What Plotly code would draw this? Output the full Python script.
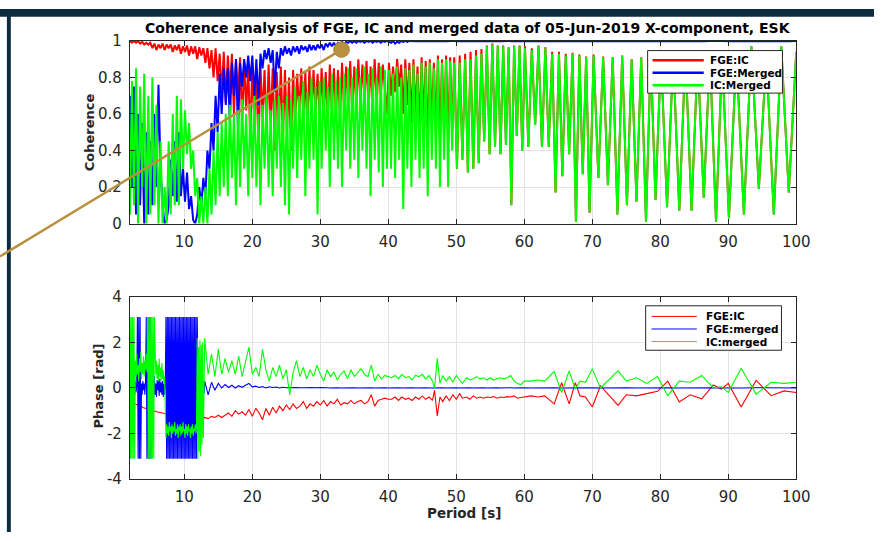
import plotly.graph_objects as go

W, H = 888, 541

# ---------------- data: coherence panel ----------------
period_coh = [
    2.0, 2.3, 2.6, 2.9, 3.2, 3.5, 3.8, 4.1, 4.4, 4.7,
    5.0, 5.3, 5.6, 5.9, 6.2, 6.5, 6.8, 7.1, 7.4, 7.7,
    8.0, 8.3, 8.6, 8.9, 9.2, 9.5, 9.8, 10.1, 10.4, 10.7,
    11.0, 11.3, 11.6, 11.9, 12.2, 12.5, 12.8, 13.1, 13.4, 13.7,
    14.0, 14.3, 14.6, 14.9, 15.2, 15.5, 15.8, 16.1, 16.4, 16.7,
    17.0, 17.3, 17.6, 17.9, 18.2, 18.5, 18.8, 19.1, 19.4, 19.7,
    20.0, 20.3, 20.6, 20.9, 21.2, 21.5, 21.8, 22.1, 22.4, 22.7,
    23.0, 23.3, 23.6, 23.9, 24.2, 24.5, 24.8, 25.1, 25.4, 25.7,
    26.0, 26.3, 26.6, 26.9, 27.2, 27.5, 27.8, 28.1, 28.4, 28.7,
    29.0, 29.3, 29.6, 29.9, 30.2, 30.5, 30.8, 31.1, 31.4, 31.7,
    32.0, 32.3, 32.6, 32.9, 33.2, 33.5, 33.8, 34.1, 34.4, 34.7,
    35.0, 35.3, 35.6, 35.9, 36.2, 36.5, 36.8, 37.1, 37.4, 37.7,
    38.0, 38.3, 38.6, 38.9, 39.2, 39.5, 39.8,
    40.1, 40.4, 40.7, 41.0, 41.3, 41.6, 41.9, 42.2, 42.5, 42.8,
    43.1, 43.4, 43.7, 44.0, 44.3, 44.6, 44.9, 45.2, 45.5, 45.8,
    46.1, 46.4, 46.7, 47.0, 47.3, 47.6, 47.9, 48.2, 48.5, 48.8,
    49.1, 49.4, 49.7,
    50.1, 50.5, 50.9, 51.3, 51.7, 52.1, 52.5, 52.9, 53.3, 53.7,
    54.1, 54.5, 54.9, 55.3, 55.7, 56.1, 56.5, 56.9, 57.3, 57.7,
    58.1, 58.5, 58.9, 59.3, 59.7,
    60.1, 60.6, 61.1, 61.6, 62.1, 62.6, 63.1, 63.6, 64.1, 64.6,
    65.1, 65.6, 66.1, 66.6, 67.1, 67.6, 68.1, 68.6, 69.1, 69.6,
    70.2, 70.9, 71.6, 72.3, 73.0, 73.7, 74.4, 75.1, 75.8, 76.5, 77.2, 77.9, 78.6, 79.3,
    80.1, 81.0, 81.9, 82.8, 83.7, 84.6, 85.5, 86.4, 87.3, 88.2, 89.1,
    90.1, 91.2, 92.3, 93.4, 94.5, 95.6, 96.7, 97.8, 98.9, 100.0,
]

coh_fge_ic = [
    1.0, 0.99, 1.0, 0.99, 1.0, 0.985, 0.995, 0.98, 0.99, 0.98,
    0.99, 0.96, 0.985, 0.95, 0.98, 0.96, 0.985, 0.95, 0.98, 0.96,
    0.98, 0.94, 0.975, 0.95, 0.98, 0.93, 0.97, 0.94, 0.975, 0.92,
    0.97, 0.93, 0.97, 0.9, 0.965, 0.92, 0.96, 0.88, 0.96, 0.85,
    0.95, 0.8, 0.96, 0.78, 0.93, 0.7, 0.94, 0.66, 0.92, 0.72,
    0.93, 0.6, 0.9, 0.7, 0.91, 0.55, 0.88, 0.62, 0.87, 0.45,
    0.88, 0.55, 0.85, 0.4, 0.86, 0.58, 0.84, 0.5, 0.87, 0.55,
    0.85, 0.4, 0.83, 0.52, 0.86, 0.45, 0.84, 0.5, 0.8, 0.4,
    0.84, 0.55, 0.82, 0.6, 0.85, 0.58, 0.83, 0.5, 0.86, 0.6,
    0.84, 0.62, 0.82, 0.58, 0.85, 0.6, 0.83, 0.55, 0.87, 0.62,
    0.85, 0.6, 0.84, 0.58, 0.88, 0.62, 0.86, 0.65, 0.89, 0.6,
    0.86, 0.66, 0.9, 0.65, 0.87, 0.7, 0.89, 0.62, 0.86, 0.68,
    0.9, 0.65, 0.88, 0.7, 0.87, 0.72, 0.6,
    0.88, 0.7, 0.86, 0.72, 0.9, 0.75, 0.87, 0.6, 0.9, 0.65,
    0.88, 0.55, 0.9, 0.6, 0.86, 0.5, 0.91, 0.55, 0.89, 0.45,
    0.9, 0.55, 0.88, 0.5, 0.92, 0.45, 0.9, 0.5, 0.92, 0.45,
    0.91, 0.5, 0.91,
    0.3, 0.92, 0.35, 0.93, 0.28, 0.94, 0.3, 0.95, 0.33, 0.955,
    0.45, 0.975, 0.38, 0.985, 0.42, 0.975, 0.38, 0.975, 0.43, 0.965,
    0.1, 0.975, 0.48, 0.975, 0.4,
    0.97, 0.42, 0.96, 0.54, 0.975, 0.42, 0.965, 0.42, 0.94, 0.17,
    0.94, 0.26, 0.93, 0.38, 0.935, 0.01, 0.925, 0.27, 0.915, 0.06,
    0.925, 0.25, 0.915, 0.21, 0.91, 0.05, 0.92, 0.1, 0.9, 0.12, 0.91, 0.01, 0.92, 0.13,
    0.93, 0.09, 0.92, 0.07, 0.93, 0.07, 0.92, 0.14, 0.93, 0.01, 0.92,
    0.03, 0.93, 0.05, 0.97, 0.19, 0.92, 0.05, 0.97, 0.17, 0.94,
]

coh_fge_merged = [
    0.7, 0.2, 0.75, 0.05, 0.6, 0.1, 0.55, 0.0, 0.5, 0.05,
    0.45, 0.1, 0.6, 0.2, 0.76, 0.3, 0.1, 0.0, 0.02, 0.1,
    0.35, 0.15, 0.45, 0.12, 0.5, 0.15, 0.3, 0.12, 0.28, 0.08,
    0.15, 0.02, 0.0, 0.05, 0.2, 0.1, 0.25, 0.15, 0.4, 0.3,
    0.55, 0.4, 0.7, 0.5, 0.82, 0.6, 0.85, 0.65, 0.85, 0.55,
    0.88, 0.7, 0.9, 0.5, 0.88, 0.75, 0.9, 0.8, 0.92, 0.78,
    0.92, 0.7, 0.9, 0.65, 0.93, 0.85, 0.95, 0.9, 0.96, 0.88,
    0.95, 0.72, 0.94, 0.85, 0.96, 0.92, 0.97, 0.93, 0.96, 0.92,
    0.97, 0.94, 0.97, 0.93, 0.975, 0.95, 0.97, 0.94, 0.98, 0.95,
    0.975, 0.95, 0.98, 0.96, 0.98, 0.95, 0.985, 0.97, 0.99, 0.97,
    0.99, 0.97, 0.99, 0.98, 0.995, 0.98, 0.995, 0.99, 1.0, 0.99,
    1.0, 0.99, 1.0, 0.995, 1.0, 0.99, 1.0, 0.995, 1.0, 0.99,
    1.0, 0.995, 1.0, 0.99, 1.0, 0.995, 1.0,
    0.995, 0.99, 1.0, 0.985, 0.995, 0.99, 1.0, 0.995, 1.0, 0.995,
    1.0, 0.998, 1.0, 0.998, 1.0, 0.998, 1.0, 0.998, 1.0, 0.998,
    1.0, 0.998, 1.0, 0.998, 1.0, 0.998, 1.0, 0.998, 1.0, 0.998,
    1.0, 0.998, 1.0,
    0.998, 1.0, 0.998, 1.0, 0.998, 1.0, 0.998, 1.0, 0.998, 1.0,
    0.998, 1.0, 0.998, 1.0, 0.998, 1.0, 0.998, 1.0, 0.998, 1.0,
    0.998, 1.0, 0.998, 1.0, 0.998,
    1.0, 0.998, 1.0, 0.998, 1.0, 0.998, 1.0, 0.998, 1.0, 0.998,
    1.0, 0.998, 1.0, 0.998, 1.0, 0.998, 1.0, 0.998, 1.0, 0.998,
    1.0, 0.998, 1.0, 0.998, 1.0, 0.998, 1.0, 0.998, 1.0, 0.998, 1.0, 0.998, 1.0, 0.998,
    1.0, 0.998, 1.0, 0.998, 1.0, 0.998, 1.0, 0.998, 1.0, 0.998, 1.0,
    0.998, 1.0, 0.998, 1.0, 0.998, 1.0, 0.998, 1.0, 0.998, 1.0,
]

coh_ic_merged = [
    0.05, 0.78, 0.1, 0.85, 0.0, 0.75, 0.2, 0.82, 0.0, 0.7,
    0.05, 0.8, 0.1, 0.65, 0.0, 0.45, 0.0, 0.2, 0.0, 0.45,
    0.05, 0.6, 0.1, 0.7, 0.1, 0.68, 0.3, 0.62, 0.38, 0.55,
    0.3, 0.4, 0.15, 0.25, 0.0, 0.15, 0.0, 0.2, 0.0, 0.3,
    0.05, 0.4, 0.1, 0.5, 0.15, 0.55, 0.2, 0.6, 0.15, 0.65,
    0.25, 0.6, 0.1, 0.62, 0.2, 0.68, 0.3, 0.6, 0.15, 0.65,
    0.25, 0.7, 0.2, 0.6, 0.1, 0.65, 0.3, 0.7, 0.2, 0.62,
    0.15, 0.68, 0.3, 0.7, 0.2, 0.66, 0.1, 0.7, 0.05, 0.68,
    0.3, 0.75, 0.25, 0.7, 0.35, 0.78, 0.15, 0.72, 0.3, 0.8,
    0.35, 0.75, 0.05, 0.78, 0.3, 0.8, 0.4, 0.75, 0.2, 0.82,
    0.35, 0.78, 0.3, 0.8, 0.2, 0.82, 0.4, 0.85, 0.3, 0.8,
    0.35, 0.85, 0.25, 0.8, 0.4, 0.86, 0.3, 0.82, 0.15, 0.85,
    0.35, 0.8, 0.28, 0.86, 0.2, 0.84, 0.3,
    0.84, 0.3, 0.82, 0.25, 0.86, 0.35, 0.8, 0.08, 0.85, 0.3,
    0.84, 0.2, 0.87, 0.35, 0.82, 0.25, 0.88, 0.3, 0.86, 0.15,
    0.88, 0.35, 0.85, 0.3, 0.9, 0.2, 0.88, 0.35, 0.9, 0.2,
    0.89, 0.4, 0.88,
    0.3, 0.88, 0.35, 0.9, 0.28, 0.9, 0.3, 0.92, 0.33, 0.93,
    0.45, 0.97, 0.38, 0.98, 0.42, 0.97, 0.38, 0.97, 0.43, 0.96,
    0.1, 0.97, 0.48, 0.97, 0.4,
    0.96, 0.42, 0.95, 0.54, 0.97, 0.42, 0.96, 0.42, 0.93, 0.17,
    0.93, 0.26, 0.92, 0.38, 0.93, 0.01, 0.92, 0.27, 0.91, 0.06,
    0.92, 0.25, 0.91, 0.21, 0.91, 0.05, 0.92, 0.1, 0.9, 0.12, 0.91, 0.01, 0.92, 0.13,
    0.93, 0.09, 0.92, 0.07, 0.93, 0.07, 0.92, 0.14, 0.93, 0.01, 0.92,
    0.03, 0.93, 0.05, 0.97, 0.19, 0.92, 0.05, 0.97, 0.17, 0.94,
]

# ---------------- data: phase panel ----------------
period_phase = [
    2.0, 2.1, 2.2, 2.3, 2.4, 2.5, 2.6, 2.7, 2.8, 2.9,
    3.0, 3.1, 3.2, 3.3, 3.4, 3.5, 3.6, 3.7, 3.8, 3.9,
    4.0, 4.1, 4.2, 4.3, 4.4, 4.5, 4.6, 4.7, 4.8, 4.9,
    5.0, 5.1, 5.2, 5.3, 5.4, 5.5, 5.6, 5.7, 5.8, 5.9,
    6.0, 6.1, 6.2, 6.3, 6.4, 6.5, 6.6, 6.7, 6.8, 6.9,
    7.0, 7.1, 7.2, 7.3, 7.4, 7.5, 7.6, 7.7, 7.8, 7.9,
    8.0, 8.1, 8.2, 8.3, 8.4, 8.5, 8.6, 8.7, 8.8, 8.9,
    9.0, 9.1, 9.2, 9.3, 9.4, 9.5, 9.6, 9.7, 9.8, 9.9,
    10.0, 10.1, 10.2, 10.3, 10.4, 10.5, 10.6, 10.7, 10.8, 10.9,
    11.0, 11.1, 11.2, 11.3, 11.4, 11.5, 11.6, 11.7, 11.8, 11.9,
    12.0, 12.1, 12.2, 12.3, 12.4, 12.5, 12.6, 12.7, 12.8, 12.9,
    13.0, 13.5, 14.0, 14.5, 15.0, 15.5, 16.0, 16.5, 17.0, 17.5,
    18.0, 18.5, 19.0, 19.5, 20.0, 20.5, 21.0, 21.5, 22.0, 22.5,
    23.0, 23.5, 24.0, 24.5, 25.0, 25.5, 26.0, 26.5, 27.0, 27.5,
    28.0, 28.5, 29.0, 29.5, 30.0, 30.5, 31.0, 31.5, 32.0, 32.5,
    33.0, 33.5, 34.0, 34.5, 35.0, 35.5, 36.0, 36.5, 37.0, 37.5,
    38.0, 38.5, 39.0, 39.5, 40.0,
    40.5, 41.0, 41.5, 42.0, 42.5, 43.0, 43.5, 44.0, 44.5, 45.0,
    45.5, 46.0, 46.5, 46.8, 47.2, 47.6, 48.0, 48.5, 49.0, 49.5,
    50.0, 50.5, 50.9, 51.5, 52.0, 52.5, 53.0, 53.5, 54.0, 54.5,
    55.0, 55.5, 56.0, 56.5, 57.0, 57.5, 58.0, 58.5, 59.0, 59.5,
    60.0, 61.0, 62.0, 63.0, 64.4, 65.5, 66.6, 67.5, 68.2, 69.0,
    70.0, 71.2, 72.4, 73.8, 75.0, 76.5, 78.0, 79.6, 81.1, 82.8,
    84.4, 86.1, 87.8, 89.0, 90.0, 91.9, 94.1, 96.3, 98.2, 100.0,
]

phase_fge_ic = [
    -0.3, -0.4, -0.48, -0.55, -0.6, -0.62, -0.66, -0.68, -0.7, -0.72,
    -0.73, -0.75, -0.76, -0.78, -0.79, -0.8, -0.82, -0.83, -0.84, -0.86,
    -0.87, -0.88, -0.9, -0.9, -0.92, -0.93, -0.94, -0.95, -0.96, -0.97,
    -0.98, -0.98, -1.0, -1.0, -1.01, -1.02, -1.03, -1.03, -1.04, -1.05,
    -1.05, -1.06, -1.07, -1.07, -1.08, -1.09, -1.1, -1.1, -1.11, -1.12,
    -1.12, -1.13, -1.14, -1.14, -1.15, -1.16, -1.16, -1.17, -1.18, -1.18,
    -1.19, -1.2, -1.2, -1.21, -1.22, -1.22, -1.23, -1.23, -1.24, -1.25,
    -1.25, -1.26, -1.26, -1.27, -1.27, -1.28, -1.28, -1.29, -1.29, -1.3,
    -1.3, -1.31, -1.3, -1.32, -1.31, -1.32, -1.33, -1.32, -1.33, -1.34,
    -1.33, -1.34, -1.33, -1.35, -1.34, -1.33, -1.35, -1.34, -1.32, -1.3,
    -1.28, -1.35, -1.3, -1.38, -1.27, -1.33, -1.36, -1.28, -1.32, -1.35,
    -1.3, -1.35, -1.25, -1.3, -1.2, -1.3, -1.2, -1.1, -1.25, -1.0,
    -1.15, -1.05, -1.2, -0.95, -1.25, -0.9, -1.1, -1.4, -0.9, -1.2,
    -0.85, -1.1, -0.8, -1.0, -0.75, -0.95, -0.7, -0.9, -0.8, -0.6,
    -0.9, -0.7, -0.8, -0.6, -0.75, -0.55, -0.8, -0.6, -0.7, -0.5,
    -0.75, -0.65, -0.7, -0.55, -0.7, -0.6, -0.55, -0.7, -0.6, -0.3,
    -0.8, -0.55, -0.5, -0.45, -0.5,
    -0.5, -0.4, -0.55, -0.4, -0.5, -0.45, -0.55, -0.4, -0.5, -0.35,
    -0.5, -0.4, -0.55, -0.1, -1.23, -0.4, -0.6, -0.35, -0.55, -0.3,
    -0.5, -0.25, -0.45, -0.4, -0.5, -0.35, -0.45, -0.4, -0.45, -0.4,
    -0.42, -0.38, -0.45, -0.4, -0.42, -0.38, -0.4, -0.35, -0.45, -0.42,
    -0.4, -0.35, -0.4, -0.35, -0.7, 0.23, -0.7, 0.23, -0.35, -0.4,
    -0.84, 0.1, -0.3, -0.77, -0.3, -0.35, -0.25, -0.15, 0.3, -0.62,
    -0.3, -0.48, 0.13, -0.05, 0.2, -0.84, 0.33, -0.34, -0.13, -0.2,
]

phase_fge_merged = [
    0.3, -0.1, 0.2, -0.2, 0.4, -0.1, 0.2, -0.3, 0.3, -0.2,
    0.1, 3.12, -3.12, 3.12, -3.12, 3.12, -3.12, 0.2, -0.3, 0.3,
    -0.1, 0.2, -0.3, 0.3, 3.12, -3.12, 3.12, -3.12, 3.12, -3.12,
    3.12, -3.12, 0.4, -0.2, 0.3, -0.4, 0.5, -0.3, 0.2, -0.4,
    0.35, -0.1, 0.3, -0.35, 0.4, -0.2, 0.25, -0.3, 0.3, -0.4,
    0.2, -0.3, 0.1, 3.12, -3.12, 3.12, -3.12, 3.12, -3.12, 3.12,
    -3.12, 3.12, -3.12, 3.12, -3.12, 3.12, -3.12, 3.12, -3.12, 3.12,
    -3.12, 3.12, -3.12, 3.12, -3.12, 3.12, -3.12, 3.12, -3.12, 3.12,
    -3.12, 3.12, -3.12, 3.12, -3.12, 3.12, -3.12, 3.12, -3.12, 3.12,
    -3.12, 3.12, -3.12, 3.12, -3.12, 3.12, -3.12, 3.12, -3.12, 3.12,
    0.5, -0.4, 0.3, -0.5, 0.4, -0.3, 0.35, -0.2, 0.3, -0.25,
    0.3, -0.3, 0.25, -0.1, 0.2, 0.0, 0.15, 0.02, 0.12, 0.0,
    0.1, 0.03, 0.12, 0.2, 0.05, 0.08, 0.02, 0.06, 0.0, 0.05,
    0.02, 0.04, 0.0, 0.03, 0.01, 0.02, 0.0, 0.02, 0.01, 0.0,
    0.01, 0.02, 0.0, 0.01, 0.02, 0.0, 0.01, 0.0, 0.02, 0.01,
    0.0, 0.01, 0.02, 0.0, 0.01, 0.0, 0.01, 0.02, 0.0, 0.01,
    0.0, 0.01, 0.0, 0.01, 0.0,
    0.01, 0.0, 0.01, 0.0, 0.01, 0.0, 0.01, 0.0, 0.01, 0.0,
    0.01, 0.0, 0.01, 0.0, 0.01, 0.0, 0.01, 0.0, 0.01, 0.0,
    0.01, 0.0, 0.01, 0.0, 0.01, 0.0, 0.01, 0.0, 0.01, 0.0,
    0.01, 0.0, 0.01, 0.0, 0.01, 0.0, 0.01, 0.0, 0.01, 0.0,
    0.01, 0.0, 0.01, 0.0, 0.01, 0.0, 0.01, 0.0, 0.01, 0.0,
    0.01, 0.0, 0.01, 0.0, 0.01, 0.0, 0.01, 0.0, 0.01, 0.0,
    0.01, 0.0, 0.01, 0.0, 0.01, 0.0, 0.01, 0.0, 0.01, 0.0,
]

phase_ic_merged = [
    3.12, -3.12, 3.12, -3.12, 3.12, -3.12, 3.12, -3.12, 1.2, 0.5,
    1.5, 0.6, 1.0, 0.3, 1.3, 0.7, 1.6, 0.4, 1.1, 0.6,
    1.4, 0.5, 1.2, 0.8, 1.5, 0.7, 3.12, -3.12, 3.12, -3.12,
    3.12, -3.12, 3.12, -3.12, 3.12, -3.12, 3.12, 1.5, 0.6, 1.2,
    0.4, 1.0, 0.3, 1.3, 0.5, 0.9, 0.3, 1.1, 0.4, 0.8,
    0.2, 0.5, -0.8, -2.2, -1.6, -2.0, -1.7, -2.1, -1.5, -1.9,
    -1.7, -2.2, -1.6, -2.0, -1.7, -1.9, -1.5, -2.1, -1.8, -2.0,
    -1.6, -2.2, -1.7, -1.9, -1.6, -2.1, -1.7, -2.0, -1.5, -1.9,
    -1.8, -2.2, -1.6, -2.0, -1.7, -2.1, -1.6, -1.9, -1.8, -2.2,
    -1.7, -2.0, -1.6, -2.1, -1.8, -1.9, -1.6, -2.0, -1.7, 2.2,
    -3.12, 1.8, -2.8, 2.1, -3.0, 1.9, -2.5, 2.0, -2.2, 1.6,
    2.2, 0.6, 1.5, 0.5, 1.7, 0.6, 1.3, 0.7, 1.2, 0.6,
    1.4, 0.5, 1.1, 1.8, 0.6, 0.9, 0.5, 1.7, 0.8, 0.3,
    0.9, 0.5, 1.0, 0.4, 0.8, -0.3, 0.7, 1.2, 0.5, 0.9,
    0.4, 0.8, 0.5, 1.0, 0.6, 0.3, 0.8, 0.5, 0.7, 0.35,
    0.6, 0.75, 0.4, 0.8, 0.5, 0.7, 0.85, 0.6, 0.5, 1.0,
    0.3, 0.6, 0.4, 0.55, 0.5,
    0.45, 0.55, 0.4, 0.6, 0.45, 0.5, 0.35, 0.55, 0.5, 0.6,
    0.4, 0.55, 0.3, 0.0, 1.3, 0.2, 0.55, 0.3, 0.5, 0.25,
    0.55, 0.35, 0.2, 0.45, 0.35, 0.4, 0.5, 0.4, 0.45, 0.35,
    0.45, 0.35, 0.42, 0.45, 0.4, 0.45, 0.55, 0.3, 0.2, 0.15,
    0.3, 0.3, 0.35, 0.3, 0.72, -0.2, 0.75, -0.05, 0.3, 0.25,
    0.84, 0.0, 0.35, 0.75, 0.3, 0.45, 0.2, 0.5, -0.34, 0.3,
    0.25, 0.55, 0.0, 0.05, -0.2, 0.87, -0.27, 0.25, 0.2, 0.25,
]

# ---------------- ticks / labels ----------------
period_tickvals = [10, 20, 30, 40, 50, 60, 70, 80, 90, 100]
period_ticktext = ["10", "20", "30", "40", "50", "60", "70", "80", "90", "100"]
coh_tickvals = [0, 0.2, 0.4, 0.6, 0.8, 1]
coh_ticktext = ["0", "0.2", "0.4", "0.6", "0.8", "1"]
phase_tickvals = [-4, -2, 0, 2, 4]
phase_ticktext = ["-4", "-2", "0", "2", "4"]

coh_names = ["FGE:IC", "FGE:Merged", "IC:Merged"]
phase_names = ["FGE:IC", "FGE:merged", "IC:merged"]
title_text = "Coherence analysis of FGE, IC and merged data of 05-Jun-2019 X-component, ESK"

for arr in (coh_fge_ic, coh_fge_merged, coh_ic_merged):
    assert len(arr) == len(period_coh), (len(arr), len(period_coh))
for arr in (phase_fge_ic, phase_fge_merged, phase_ic_merged):
    assert len(arr) == len(period_phase), (len(arr), len(period_phase))

# ---------------- styling ----------------
COLORS = ["#ff0000", "#0000ff", "#00ff00"]
FONT = "DejaVu Sans"
AX = "#262626"


def fx(px):
    return px / W


def fy(py):
    return 1 - py / H


fig = go.Figure()
for name, vals, col in zip(coh_names, [coh_fge_ic, coh_fge_merged, coh_ic_merged], COLORS):
    fig.add_trace(go.Scatter(x=period_coh, y=vals, mode="lines", name=name,
                             line=dict(color=col, width=2), xaxis="x", yaxis="y",
                             showlegend=False))
for name, vals, col in zip(phase_names, [phase_fge_ic, phase_fge_merged, phase_ic_merged], COLORS):
    fig.add_trace(go.Scatter(x=period_phase, y=vals, mode="lines", name=name,
                             line=dict(color=col, width=1.1), xaxis="x2", yaxis="y2",
                             showlegend=False))

axis_common = dict(showline=True, linecolor=AX, linewidth=1, mirror="ticks",
                   ticks="inside", ticklen=5, tickcolor=AX, tickwidth=1,
                   showgrid=True, gridcolor="#e3e3e3", gridwidth=1, zeroline=False,
                   tickfont=dict(family=FONT, size=15, color=AX))

xdom = [fx(132), fx(809)]
fig.update_layout(
    width=W, height=H, autosize=False, margin=dict(l=0, r=0, t=0, b=0, pad=0),
    paper_bgcolor="white", plot_bgcolor="white", showlegend=False,
    xaxis=dict(domain=xdom, range=[2, 100], anchor="y", tickvals=period_tickvals,
               ticktext=period_ticktext, ticklabelstandoff=4, **axis_common),
    yaxis=dict(domain=[fy(222), fy(33)], range=[0, 1], anchor="x", tickvals=coh_tickvals,
               ticktext=coh_ticktext, ticklabelstandoff=4, **axis_common),
    xaxis2=dict(domain=xdom, range=[2, 100], anchor="y2", tickvals=period_tickvals,
                ticktext=period_ticktext, ticklabelstandoff=4, **axis_common),
    yaxis2=dict(domain=[fy(486), fy(298)], range=[-4, 4], anchor="x2", tickvals=phase_tickvals,
                ticktext=phase_ticktext, ticklabelstandoff=4, **axis_common),
)

shapes = []
annotations = []

# slide frame
FRAME = "#0c2d3f"
shapes.append(dict(type="rect", xref="paper", yref="paper", x0=0, x1=1, y0=fy(8), y1=1,
                   fillcolor=FRAME, line=dict(width=0), layer="above"))
shapes.append(dict(type="rect", xref="paper", yref="paper", x0=fx(7), x1=fx(11), y0=0, y1=1,
                   fillcolor=FRAME, line=dict(width=0), layer="above"))


def add_legend(x0, y0, x1, y1, line_x0, line_x1, text_x, rows_y, names, lw):
    shapes.append(dict(type="rect", xref="paper", yref="paper", x0=fx(x0), x1=fx(x1),
                       y0=fy(y1), y1=fy(y0), fillcolor="white",
                       line=dict(color=AX, width=1), layer="above"))
    for ry, name, col in zip(rows_y, names, COLORS):
        shapes.append(dict(type="line", xref="paper", yref="paper", x0=fx(line_x0), x1=fx(line_x1),
                           y0=fy(ry), y1=fy(ry), line=dict(color=col, width=lw), layer="above"))
        annotations.append(dict(xref="paper", yref="paper", x=fx(text_x), y=fy(ry),
                                xanchor="left", yanchor="middle", showarrow=False,
                                text="<b>" + name + "</b>",
                                font=dict(family=FONT, size=10.5, color="#000000")))


add_legend(658, 43, 795, 87, 663, 715, 719, [53, 66, 79], coh_names, 2.5)
add_legend(656, 307, 794, 353, 662, 708, 715, [318, 331, 344], phase_names, 1)

# title and axis labels
annotations.append(dict(xref="paper", yref="paper", x=fx(476), y=fy(20), xanchor="center",
                        yanchor="middle", showarrow=False, text="<b>" + title_text + "</b>",
                        font=dict(family=FONT, size=14, color="#000000")))
annotations.append(dict(xref="paper", yref="paper", x=fx(91), y=fy(128), xanchor="center",
                        yanchor="middle", showarrow=False, text="<b>Coherence</b>", textangle=-90,
                        font=dict(family=FONT, size=13, color=AX)))
annotations.append(dict(xref="paper", yref="paper", x=fx(100), y=fy(390), xanchor="center",
                        yanchor="middle", showarrow=False, text="<b>Phase [rad]</b>", textangle=-90,
                        font=dict(family=FONT, size=13, color=AX)))
annotations.append(dict(xref="paper", yref="paper", x=fx(471), y=fy(521), xanchor="center",
                        yanchor="middle", showarrow=False, text="<b>Period [s]</b>",
                        font=dict(family=FONT, size=13.5, color=AX)))

# gold pointer
GOLD = "#b8913f"
shapes.append(dict(type="line", xref="paper", yref="paper", x0=fx(347), y0=fy(42), x1=fx(0), y1=fy(256),
                   line=dict(color=GOLD, width=2.5), layer="above"))
shapes.append(dict(type="circle", xref="paper", yref="paper", x0=fx(339), x1=fx(355), y0=fy(50), y1=fy(34),
                   fillcolor=GOLD, line=dict(color="#a8843a", width=1), layer="above"))

fig.update_layout(shapes=shapes, annotations=annotations)

fig.write_html("out.html", config={"displayModeBar": False, "responsive": False},
               post_script="document.body.style.margin='0px';")
